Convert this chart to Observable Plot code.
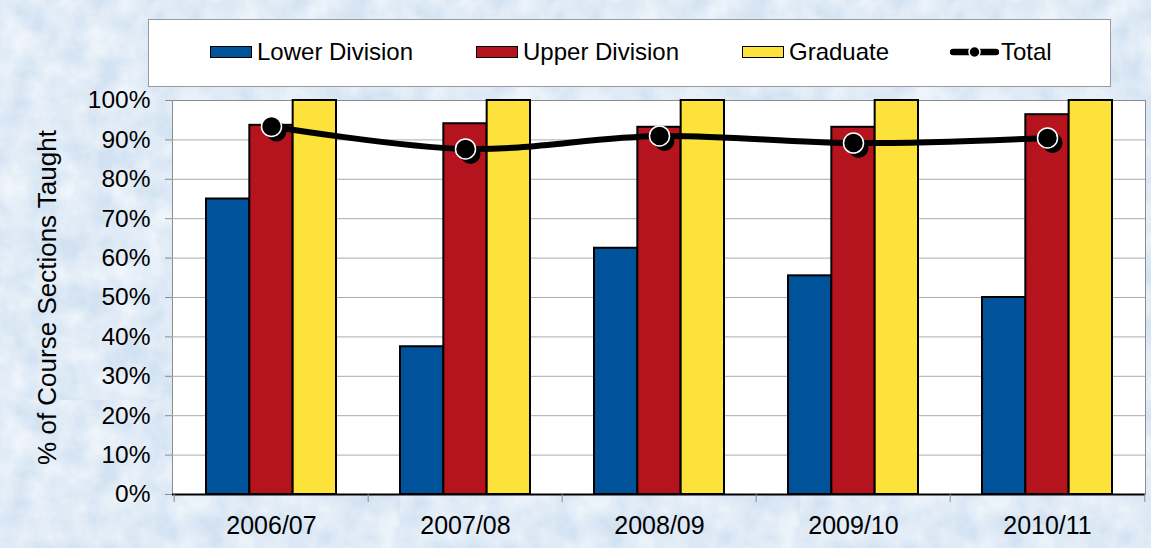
<!DOCTYPE html>
<html>
<head>
<meta charset="utf-8">
<script src="https://cdn.jsdelivr.net/npm/d3@7"></script>
<script src="https://cdn.jsdelivr.net/npm/@observablehq/plot@0.6"></script>
<style>
  html, body { margin: 0; padding: 0; width: 1151px; height: 548px; overflow: hidden; }
  body {
    font-family: "Liberation Sans", Arial, sans-serif;
    background-color: #d2e2f2;
    background-image: url("data:image/svg+xml,%3Csvg xmlns='http://www.w3.org/2000/svg' width='400' height='400'%3E%3Cfilter id='n'%3E%3CfeTurbulence type='fractalNoise' baseFrequency='0.035' numOctaves='4' seed='3'/%3E%3CfeColorMatrix values='0 0 0 0 1 0 0 0 0 1 0 0 0 0 1 1.1 0 0 0 -0.25'/%3E%3C/filter%3E%3Crect width='400' height='400' filter='url(%23n)'/%3E%3C/svg%3E");
  }
  #legend { position: relative; width: 1151px; height: 92px; }
  #legend .box { position: absolute; left: 148px; top: 19px; width: 961px; height: 66px; background: #fff; border: 1px solid #9a9a9a; }
  #legend .item { position: absolute; top: 40px; height: 24px; display: flex; align-items: center; font-size: 24px; line-height: 1; color: #000; white-space: nowrap; }
  #legend .sw { display: inline-block; width: 40px; height: 10px; border: 1.5px solid #000; margin-right: 5px; }
  #chart svg { display: block; }
</style>
</head>
<body>
<div id="legend"><div class="box"></div></div>
<div id="chart"></div>
<script>
// ---- data ----
const years = ["2006/07", "2007/08", "2008/09", "2009/10", "2010/11"];
const seriesNames = ["Lower Division", "Upper Division", "Graduate", "Total"];
const seriesColors = ["#00529b", "#b5131d", "#fde23b", "#000000"];
const lowerDivision = [75.0, 37.5, 62.5, 55.5, 50.0];
const upperDivision = [93.7, 94.1, 93.2, 93.2, 96.4];
const graduate = [100, 100, 100, 100, 100];
const total = [93.4, 87.7, 91.0, 89.2, 90.5];
const yTicks = [0, 10, 20, 30, 40, 50, 60, 70, 80, 90, 100];
const yTitle = "% of Course Sections Taught";

// ---- legend ----
const legend = document.getElementById("legend");
const legendLeft = [210, 476, 742, 950];
seriesNames.forEach((name, i) => {
  const it = document.createElement("div");
  it.className = "item";
  it.style.left = legendLeft[i] + "px";
  if (i < 3) {
    const sw = document.createElement("span");
    sw.className = "sw";
    sw.style.background = seriesColors[i];
    it.appendChild(sw);
  } else {
    const ns = "http://www.w3.org/2000/svg";
    const s = document.createElementNS(ns, "svg");
    s.setAttribute("width", 49); s.setAttribute("height", 14);
    s.style.marginRight = "2px";
    s.innerHTML = "<line x1='3' x2='46' y1='7' y2='7' stroke='#000' stroke-width='6.5' stroke-linecap='round'/>" +
                  "<circle cx='24.5' cy='7' r='5.5' fill='#000' stroke='#fff' stroke-width='1.5'/>";
    it.appendChild(s);
  }
  const t = document.createElement("span");
  t.textContent = name;
  it.appendChild(t);
  legend.appendChild(it);
});

// ---- chart ----
const W = 1151, H = 456, ML = 172, MR = 6, MT = 8, MB = 54;
const PI = 0.332, PO = 0.166;
const step = (W - ML - MR) / (years.length - PI + 2 * PO);
const bw = step * (1 - PI);
const barW = bw / 3;
const barSeries = [lowerDivision, upperDivision, graduate];
const plotH = H - MT - MB;

const chart = Plot.plot({
  width: W, height: H,
  marginLeft: ML, marginRight: MR, marginTop: MT, marginBottom: MB,
  style: { fontFamily: "'Liberation Sans', Arial, sans-serif", background: "transparent", overflow: "visible" },
  x: { type: "band", domain: years, paddingInner: PI, paddingOuter: PO, axis: null },
  y: { domain: [0, 100], axis: null },
  marks: [
    Plot.frame({ fill: "#fff", stroke: "#8c8c8c" }),
    Plot.gridY(yTicks.slice(1, -1), { stroke: "#ababab", strokeOpacity: 1, strokeWidth: 1 }),
    ...barSeries.map((vals, k) => Plot.barY(years, {
      x: years, y: vals, fill: seriesColors[k], stroke: "#000", strokeWidth: 2,
      insetLeft: k * barW, insetRight: (2 - k) * barW
    })),
    Plot.ruleY([0], { stroke: "#000", strokeWidth: 2 }),
    Plot.ruleX(years, { x: years, dx: -step / 2, stroke: "#8c8c8c", insetTop: plotH, insetBottom: -8 }),
    Plot.ruleX([years[years.length - 1]], { x: d => d, dx: step / 2, stroke: "#8c8c8c", insetTop: plotH, insetBottom: -8 }),
    Plot.line(years, { x: years, y: total, curve: "catmull-rom", stroke: "#000", strokeWidth: 6 }),
    Plot.dot(years, { x: years, y: total, r: 10, fill: "#000", dx: 5, dy: 5 }),
    Plot.dot(years, { x: years, y: total, r: 10, fill: "#000", stroke: "#fff", strokeWidth: 1.5 }),
    Plot.axisY(yTicks, { tickSize: 7, tickPadding: 15, fontSize: 24.5, stroke: "#8c8c8c", fill: "#000", tickFormat: d => d + "%", label: null }),
    Plot.axisX({ tickSize: 0, tickPadding: 22, fontSize: 25, fill: "#000", label: null }),
    Plot.text([yTitle], { frameAnchor: "left", textAnchor: "middle", lineAnchor: "middle", rotate: -90, dx: -125, fontSize: 26, fill: "#000" })
  ]
});
document.getElementById("chart").appendChild(chart);
</script>
</body>
</html>
